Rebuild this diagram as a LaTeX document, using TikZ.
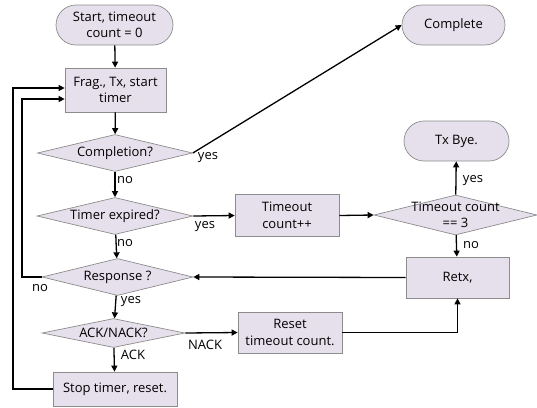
\documentclass[tikz,border=0pt]{standalone}
\usepackage{fontspec}
\setmainfont{Open Sans}
\usetikzlibrary{arrows.meta,calc,positioning,shapes.geometric}
\definecolor{BoxFill}{HTML}{E6E0EC}
\definecolor{BoxLine}{HTML}{8C8C8C}
\tikzset{
  base/.style={draw=BoxLine,fill=BoxFill,line width=.7pt,font=\fontsize{13}{16.5}\selectfont,align=center,inner sep=1pt},
  terminal/.style={base,rounded corners=20pt,minimum height=40pt},
  procbox/.style={base,rectangle,minimum height=42pt},
  decision/.style={base,diamond,aspect=4.2,inner xsep=-20pt,inner ysep=-8pt,minimum height=37pt},
  flow/.style={-{Triangle[length=6pt,width=6pt]},draw=black,line width=1.3pt},
  plain/.style={draw=black,line width=1.3pt},
  edgelabel/.style={font=\fontsize{13}{15}\selectfont,inner sep=1pt}
}
\begin{document}
\begin{tikzpicture}[x=1pt,y=-1pt]
  \useasboundingbox (0,0) rectangle (537,407);
  % left column
  \node[terminal,minimum width=117pt] (start) at (114.5,25) {Start, timeout\\count = 0};
  \node[procbox,minimum width=101pt,minimum height=44pt] (frag) at (115.5,90) {Frag., Tx, start\\timer};
  \node[decision,minimum width=155pt] (compl) at (115,153) {Completion?};
  \node[decision,minimum width=156pt] (timer) at (115,216) {Timer expired?};
  \node[decision,minimum width=151pt] (resp) at (117.5,277) {Response ?};
  \node[decision,minimum width=143pt,minimum height=29pt] (ack) at (113.5,333) {ACK/NACK?};
  \node[procbox,minimum width=124pt,minimum height=34pt] (stop) at (115,389) {Stop timer, reset.};
  % middle and right
  \node[procbox,minimum width=104pt] (tcount) at (287,215.5) {Timeout\\count++};
  \node[procbox,minimum width=104pt,minimum height=41pt] (reset) at (290,332.5) {Reset\\timeout count.};
  \node[decision,minimum width=163pt,minimum height=40pt,inner xsep=-40pt,inner ysep=-14pt] (tcheck) at (455.5,215) {Timeout count\\== 3};
  \node[procbox,minimum width=103pt,minimum height=41pt] (retx) at (457.5,277.5) {Retx,};
  \node[terminal,minimum width=103pt] (done) at (453.5,25) {Complete};
  \node[terminal,minimum width=105pt] (bye) at (456.5,141) {Tx Bye.};
  \coordinate (outerloop) at (13,88);
  \coordinate (innerloop) at (22,99);
  % connectors
  \draw[flow] (start) -- (frag);
  \draw[flow] (frag) -- (compl);
  \draw[flow] (compl.east) -- (done.west);
  \draw[flow] (compl) -- (timer);
  \draw[flow] (timer.east) -- (tcount.west);
  \draw[flow] (tcount.east) -- (tcheck.west);
  \draw[flow] (tcheck) -- (bye);
  \draw[flow] (tcheck) -- (retx);
  \draw[flow] (timer) -- (resp);
  \draw[flow] (retx.west) -- (resp.east);
  \draw[flow] (resp) -- (ack);
  \draw[flow] (ack.east) -- (reset.west);
  \draw[flow] (ack) -- (stop);
  \draw[flow] (reset.east) -| (retx.south);
  \draw[flow] (resp.west) -| (innerloop) -- (innerloop -| frag.west);
  \draw[flow] (stop.west) -| (outerloop) -- (outerloop -| frag.west);
  % labels
  \node[edgelabel] (lyes1) at (208,158) {yes};
  \node[edgelabel] (lno1) at (125,180) {no};
  \node[edgelabel] (lyes2) at (205,227) {yes};
  \node[edgelabel] (lno2) at (125,243) {no};
  \node[edgelabel] (lno3) at (40,288) {no};
  \node[edgelabel] (lyes3) at (131,302) {yes};
  \node[edgelabel] (lnack) at (205,345) {NACK};
  \node[edgelabel] (lack) at (133,355) {ACK};
  \node[edgelabel] (lyes4) at (473,181) {yes};
  \node[edgelabel] (lno4) at (471,245) {no};
\end{tikzpicture}
\end{document}
